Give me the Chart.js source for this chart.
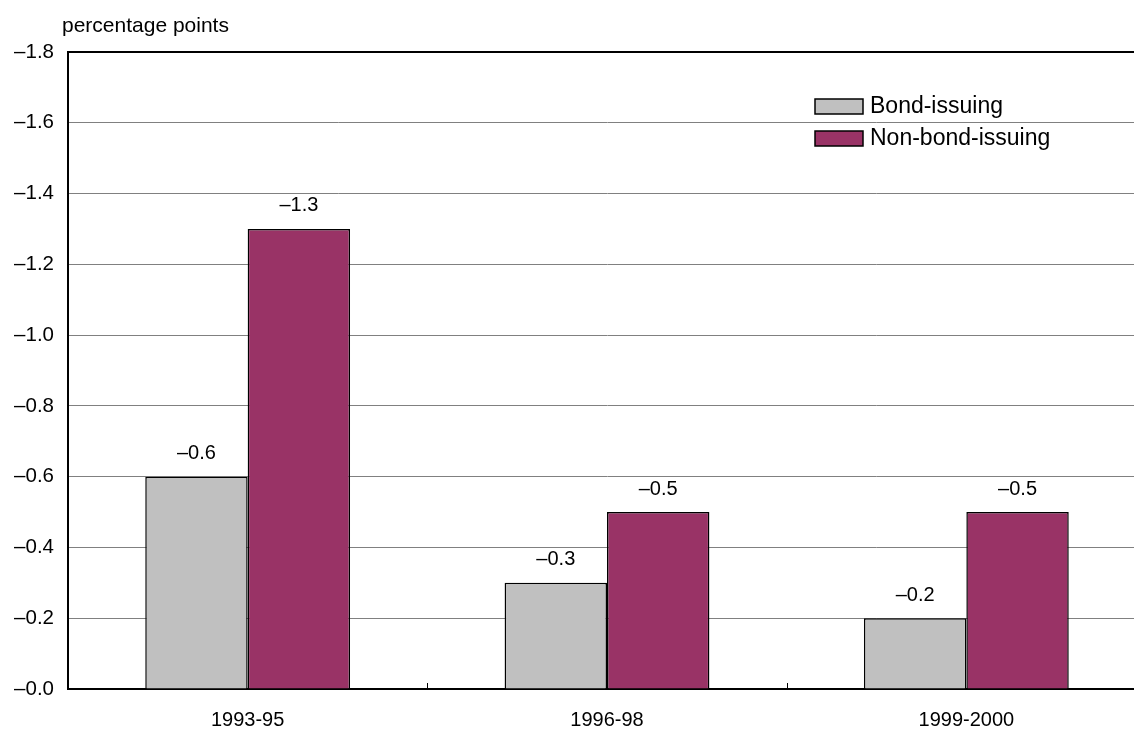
<!DOCTYPE html>
<html>
<head>
<meta charset="utf-8">
<script src="https://cdn.jsdelivr.net/npm/chart.js@4"></script>
<style>
  html, body { margin: 0; padding: 0; background: #fff; overflow: hidden; }
  #wrap { width: 1150px; height: 731px; }
</style>
</head>
<body>
<div id="wrap"><canvas id="chart"></canvas></div>
<script>
const categories = ['1993-95', '1996-98', '1999-2000'];
const bondIssuing = [-0.6, -0.3, -0.2];
const nonBondIssuing = [-1.3, -0.5, -0.5];
const unitLabel = 'percentage points';

const FONT = '"Liberation Sans", Arial, sans-serif';
const fmt = v => '\u2013' + Math.abs(v).toFixed(1);

// value labels, unit label, legend and the inward x ticks
const extras = {
    id: 'extras',
    afterDatasetsDraw(chart) {
        const c = chart.ctx;
        const area = chart.chartArea;
        const xs = chart.scales.x;
        c.save();
        c.fillStyle = '#000';
        c.font = '20px ' + FONT;

        // labels above bars
        c.textAlign = 'center';
        c.textBaseline = 'bottom';
        chart.data.datasets.forEach((ds, i) => {
            chart.getDatasetMeta(i).data.forEach((bar, j) => {
                c.fillText(fmt(ds.data[j]), bar.x, bar.y - 13);
            });
        });

        // unit label
        c.textAlign = 'left';
        c.textBaseline = 'middle';
        c.font = '21px ' + FONT;
        c.fillText(unitLabel, 62, 26);

        // legend
        c.font = '23px ' + FONT;
        chart.data.datasets.forEach((ds, i) => {
            const y = 99 + i * 32;
            c.fillStyle = ds.backgroundColor;
            c.fillRect(815, y, 48, 15);
            c.strokeStyle = '#000';
            c.lineWidth = 1.5;
            c.strokeRect(815, y, 48, 15);
            c.fillStyle = '#000';
            c.fillText(ds.label, 870, y + 8);
        });

        // small ticks at category boundaries, pointing up
        const step = xs.getPixelForValue(1) - xs.getPixelForValue(0);
        c.strokeStyle = '#000';
        c.lineWidth = 1;
        for (let i = 1; i < categories.length; i++) {
            const x = Math.round(xs.getPixelForValue(i) - step / 2) + 0.5;
            c.beginPath();
            c.moveTo(x, area.bottom);
            c.lineTo(x, area.bottom - 6);
            c.stroke();
        }
        c.restore();
    }
};

new Chart(document.getElementById('chart'), {
    type: 'bar',
    data: {
        labels: categories,
        datasets: [{
            label: 'Bond-issuing',
            data: bondIssuing,
            backgroundColor: '#c0c0c0',
            borderColor: '#000',
            borderWidth: 1.5
        }, {
            label: 'Non-bond-issuing',
            data: nonBondIssuing,
            backgroundColor: '#993366',
            borderColor: '#000',
            borderWidth: 1.5
        }]
    },
    options: {
        responsive: true,
        maintainAspectRatio: false,
        animation: false,
        layout: { padding: { top: 52, right: 4, left: 0, bottom: 0 } },
        datasets: { bar: { categoryPercentage: 0.57, barPercentage: 1 } },
        plugins: {
            legend: { display: false },
            tooltip: { enabled: false }
        },
        scales: {
            x: {
                grid: { display: false },
                border: { color: '#000', width: 2 },
                ticks: { color: '#000', font: { family: FONT, size: 20 }, padding: 11 },
                afterFit: s => { s.height = 42; }
            },
            y: {
                min: -1.8,
                max: 0,
                reverse: true,
                ticks: {
                    stepSize: 0.2,
                    color: '#000',
                    padding: 14,
                    font: { family: FONT, size: 20.5 },
                    callback: v => fmt(v)
                },
                grid: {
                    drawTicks: false,
                    color: ctx => Math.abs(ctx.tick.value + 1.8) < 1e-6 ? '#000' : '#808080',
                    lineWidth: ctx => Math.abs(ctx.tick.value + 1.8) < 1e-6 ? 2 : 1
                },
                border: { color: '#000', width: 2 },
                afterFit: s => { s.width = 68; }
            }
        }
    },
    plugins: [extras]
});
</script>
</body>
</html>
